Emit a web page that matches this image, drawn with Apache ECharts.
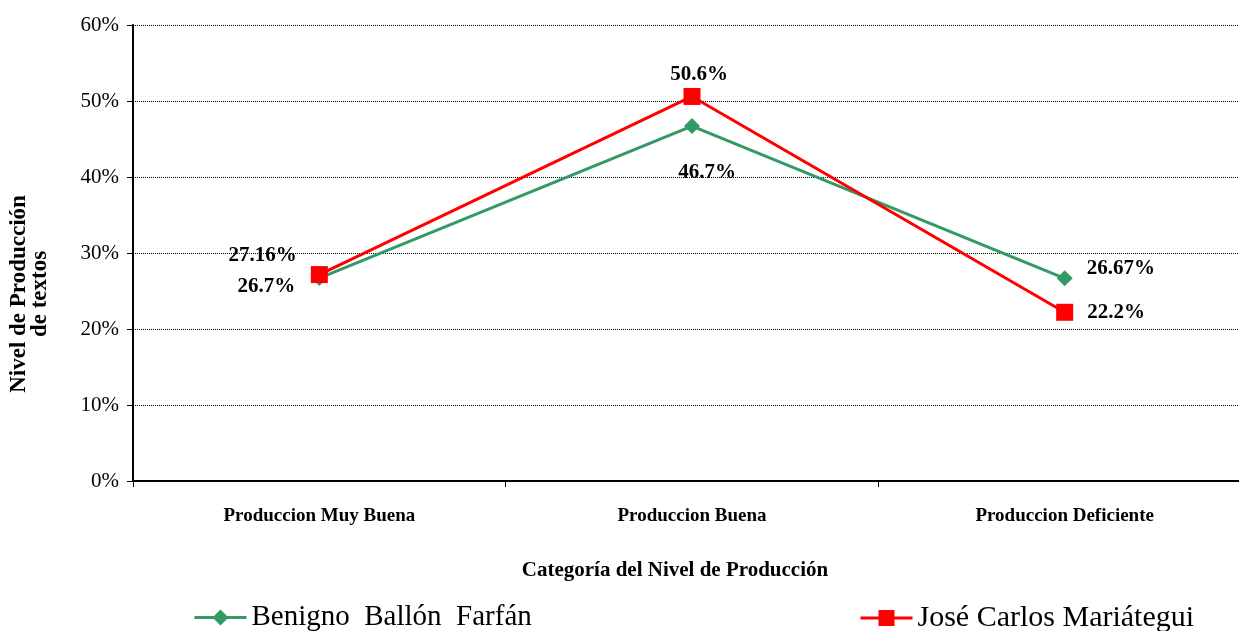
<!DOCTYPE html>
<html>
<head>
<meta charset="utf-8">
<script src="https://cdn.jsdelivr.net/npm/echarts@6/dist/echarts.min.js"></script>
<style>
  html, body { margin: 0; padding: 0; background: #fff; overflow: hidden; }
  /* el area de trazado sigue un poco mas alla del borde derecho */
  #chart { width: 1251px; height: 631px; }
</style>
</head>
<body>
<div id="chart"></div>
<script>
  // categorias del eje X
  var categories = ['Produccion Muy Buena', 'Produccion Buena', 'Produccion Deficiente'];
  // valores (%) por colegio
  var benignoName = 'Benigno  Ballón  Farfán';
  var benignoValues = [26.7, 46.7, 26.67];
  var mariateguiName = 'José Carlos Mariátegui';
  var mariateguiValues = [27.16, 50.6, 22.2];
  // eje Y
  var yMin = 0, yMax = 60, yStep = 10;

  var serif = 'Liberation Serif';

  // ubicacion de etiquetas para cada punto
  var benignoLabels = [
    {position: 'left', distance: 16, offset: [0, 8]},
    {position: 'bottom', distance: 30, offset: [15, -2]},
    {position: 'right', distance: 14, offset: [0, -10]}
  ];
  var mariateguiLabels = [
    {position: 'left', distance: 14, offset: [0, -19]},
    {position: 'top', distance: 3, offset: [7, 0]},
    {position: 'right', distance: 14, offset: [0, 0]}
  ];

  function buildData(values, labels) {
    return values.map(function (v, i) {
      return {value: v, label: labels[i]};
    });
  }

  var chart = echarts.init(document.getElementById('chart'));
  chart.setOption({
    animation: false,
    backgroundColor: '#fff',
    textStyle: {fontFamily: serif},
    grid: {left: 133, right: 0, top: 25, bottom: 150, containLabel: false},
    legend: [
      {
        data: [benignoName], left: 188, top: 598,
        itemWidth: 52, itemHeight: 20, itemGap: 10,
        lineStyle: {width: 3},
        textStyle: {fontFamily: serif, fontSize: 29, color: '#000'}
      },
      {
        data: [mariateguiName], left: 854, top: 598,
        itemWidth: 52, itemHeight: 20,
        lineStyle: {width: 3},
        textStyle: {fontFamily: serif, fontSize: 30, color: '#000'}
      }
    ],
    xAxis: {
      type: 'category',
      data: categories,
      boundaryGap: true,
      axisLine: {lineStyle: {color: '#000', width: 2}},
      axisTick: {show: true, length: 6, lineStyle: {color: '#000', width: 1}},
      axisLabel: {margin: 26, fontFamily: serif, fontWeight: 'bold', fontSize: 19, color: '#000'},
      splitLine: {show: false}
    },
    yAxis: {
      type: 'value',
      min: yMin, max: yMax, interval: yStep,
      axisLine: {show: true, lineStyle: {color: '#000', width: 2}},
      axisTick: {show: true, length: 6, lineStyle: {color: '#000'}},
      axisLabel: {
        formatter: '{value}%', margin: 14,
        fontFamily: serif, fontSize: 21, color: '#000'
      },
      splitLine: {show: true, lineStyle: {color: '#000', type: 'dotted', width: 1}}
    },
    graphic: [
      {
        type: 'text', x: 30, y: 294, rotation: Math.PI / 2,
        style: {
          text: 'Nivel de Producción\nde textos',
          fontFamily: serif, fontWeight: 'bold', fontSize: 23, lineHeight: 21,
          fill: '#000', align: 'center', verticalAlign: 'middle'
        }
      },
      {
        type: 'text', x: 675, y: 571,
        style: {
          text: 'Categoría del Nivel de Producción',
          fontFamily: serif, fontWeight: 'bold', fontSize: 21,
          fill: '#000', align: 'center', verticalAlign: 'middle'
        }
      }
    ],
    series: [
      {
        name: benignoName,
        type: 'line',
        data: buildData(benignoValues, benignoLabels),
        symbol: 'diamond', symbolSize: 16,
        itemStyle: {color: '#339966'},
        lineStyle: {color: '#339966', width: 3},
        label: {
          show: true, formatter: function (p) { return p.value + '%'; },
          fontFamily: serif, fontWeight: 'bold', fontSize: 21, color: '#000'
        },
        z: 2
      },
      {
        name: mariateguiName,
        type: 'line',
        data: buildData(mariateguiValues, mariateguiLabels),
        symbol: 'rect', symbolSize: 17,
        itemStyle: {color: '#ff0000'},
        lineStyle: {color: '#ff0000', width: 3},
        label: {
          show: true, formatter: function (p) { return p.value + '%'; },
          fontFamily: serif, fontWeight: 'bold', fontSize: 21, color: '#000'
        },
        z: 3
      }
    ]
  });
</script>
</body>
</html>
